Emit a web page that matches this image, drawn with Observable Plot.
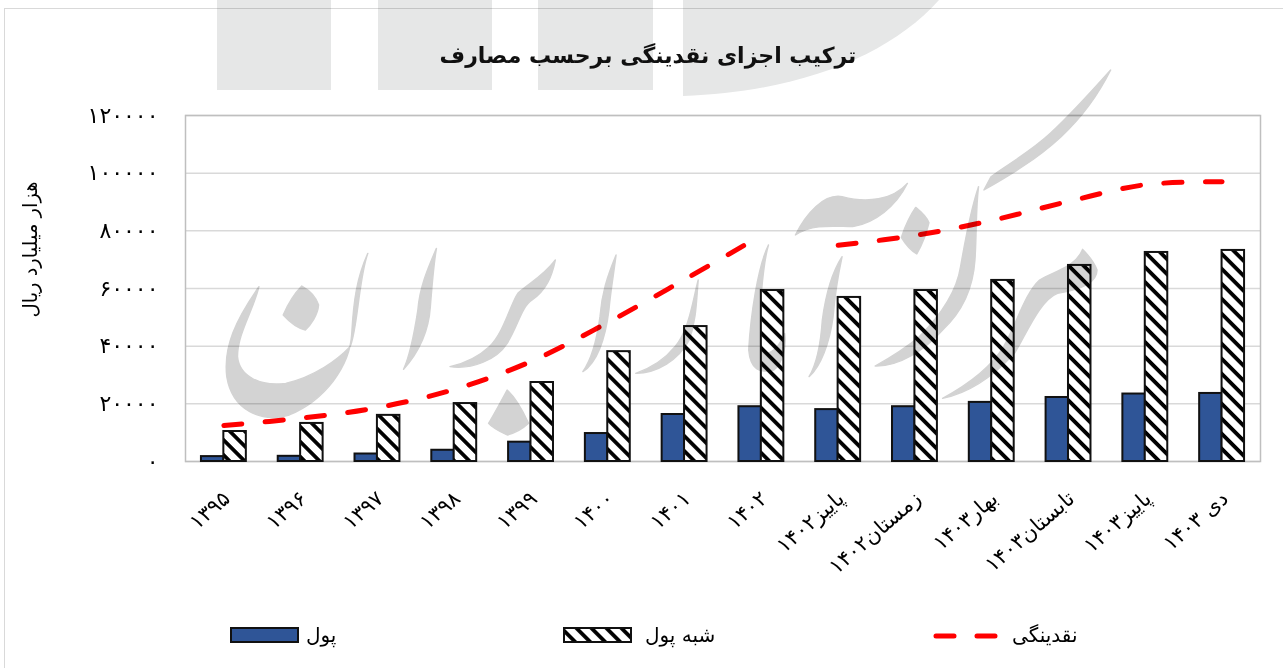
<!DOCTYPE html>
<html lang="fa">
<head>
<meta charset="utf-8">
<script src="https://cdn.jsdelivr.net/npm/d3@7"></script>
<script src="https://cdn.jsdelivr.net/npm/@observablehq/plot@0.6"></script>
<style>
  html, body { margin: 0; padding: 0; background: #fff; width: 1283px; height: 668px; overflow: hidden; }
  body { position: relative; font-family: "DejaVu Sans", sans-serif; color: #000; }
  #frame { position: absolute; left: 4px; top: 8px; right: 0; bottom: 0; border-left: 1.5px solid #d9d9d9; border-top: 1.5px solid #d9d9d9; }
  #title { height: 90px; box-sizing: border-box; padding-top: 41px; text-align: center; font-weight: bold; font-size: 22px; line-height: 30px; padding-left: 13px; color: #111; }
  #chart { position: relative; display: block; height: 530px; }
  #legend { position: relative; height: 48px; font-size: 20px; }
  #legend span.t { position: absolute; top: 3px; white-space: nowrap; direction: rtl; }
  #legend svg { position: absolute; top: 7px; overflow: visible; }
  #wm { position: absolute; left: 0; top: 0; mix-blend-mode: multiply; pointer-events: none; }
</style>
</head>
<body>
<div id="frame"></div>
<div id="title" dir="rtl">ترکیب اجزای نقدینگی برحسب مصارف</div>
<div id="chart"></div>
<div id="legend">
  <svg style="left:230px" width="69" height="16"><rect x="1" y="1" width="67" height="14" fill="#2f5597" stroke="#111" stroke-width="2"/></svg>
  <span class="t" style="left:306px">پول</span>
  <svg style="left:563px" width="69" height="16"><rect x="1" y="1" width="67" height="14" fill="url(#hatch)" stroke="#111" stroke-width="2"/></svg>
  <span class="t" style="left:645px">شبه پول</span>
  <svg style="left:932px;top:8px" width="72" height="16"><line x1="4" x2="70" y1="8" y2="8" stroke="#ff0000" stroke-width="5" stroke-linecap="round" stroke-dasharray="18,23"/></svg>
  <span class="t" style="left:1012px">نقدینگی</span>
</div>
<svg id="wm" width="1283" height="668" viewBox="0 0 1283 668">
  <g fill="#e6e7e7">
    <rect x="217" y="0" width="114" height="90"/>
    <rect x="378" y="0" width="114" height="90"/>
    <rect x="538" y="0" width="115" height="90"/>
    <path d="M683,0 L939,0 C890,55 800,92 683,96 Z"/>
  </g>
  <g fill="#d3d3d3" stroke="#d3d3d3" stroke-width="4" stroke-linejoin="round" transform="translate(200,0) scale(0.35714,0.33333)">
    <path d="M470,760 C440,830 430,900 425,1000 C420,1100 350,1200 250,1245 C170,1270 90,1230 75,1130 C65,1040 100,960 165,860 C150,930 105,1000 105,1070 C110,1130 170,1160 240,1150 C320,1130 385,1080 420,1040 C440,1000 445,830 470,760 Z"/>
    <path d="M285,858 C305,870 325,890 332,915 C330,945 310,975 295,990 C275,985 250,965 233,945 C245,915 265,880 285,858 Z"/>
    <path d="M662,745 C640,800 615,860 610,930 C600,1000 590,1060 570,1108 C610,1060 640,1000 645,920 C650,850 655,790 662,745 Z"/>
    <path d="M995,780 C960,830 920,850 890,880 C870,910 850,1000 810,1040 C780,1070 740,1090 700,1100 C760,1110 830,1080 860,1030 C890,980 900,920 930,900 C970,870 985,830 995,780 Z"/>
    <path d="M1165,765 C1140,830 1125,880 1120,950 C1110,1030 1095,1080 1072,1115 C1110,1090 1135,1020 1145,930 C1150,870 1160,810 1165,765 Z"/>
    <path d="M860,1170 C885,1195 905,1235 920,1270 C905,1285 880,1300 860,1305 C840,1295 820,1285 808,1270 C825,1240 845,1200 860,1170 Z"/>
    <path d="M1395,840 C1380,900 1370,990 1330,1040 C1300,1080 1260,1105 1220,1120 C1280,1120 1340,1080 1370,1020 C1390,960 1390,900 1395,840 Z"/>
  </g>
  <g fill="#d3d3d3" stroke="#d3d3d3" stroke-width="4" stroke-linejoin="round" transform="translate(720,0) scale(0.35907,0.33333)">
    <path d="M135,735 C105,800 85,950 80,1050 C85,1110 110,1120 150,1110 C175,1090 185,1040 180,1000 C170,1030 150,1060 125,1060 C105,1040 110,950 115,880 C120,820 125,770 135,735 Z"/>
    <path d="M340,770 C310,820 295,880 285,960 C280,1040 265,1100 248,1130 C280,1100 305,1030 315,950 C320,880 330,820 340,770 Z"/>
    <path d="M522,550 C480,600 410,610 340,590 C290,580 240,640 210,705 C260,670 320,680 370,680 C430,670 490,620 522,550 Z"/>
    <path d="M545,622 C560,635 575,650 582,668 C575,700 560,740 548,762 C530,750 515,730 505,712 C515,680 530,645 545,622 Z"/>
    <path d="M720,560 C695,640 680,740 670,800 C660,870 620,940 555,1010 C510,1050 470,1075 432,1098 C500,1100 570,1050 620,990 C680,930 705,860 710,780 C715,700 712,630 720,560 Z"/>
    <path d="M1088,210 C1030,280 980,340 920,400 C860,460 790,500 755,530 L735,570 C800,530 880,480 950,410 C1020,340 1060,270 1088,210 Z"/>
    <path d="M1010,748 C990,800 940,810 890,840 C850,880 830,960 790,1040 C750,1110 680,1160 620,1195 C690,1180 760,1130 820,1060 C850,1010 890,900 940,880 C1000,870 1050,850 1050,810 C1040,780 1020,760 1010,748 Z"/>
  </g>
</svg>
<script>
const categories = ["۱۳۹۵","۱۳۹۶","۱۳۹۷","۱۳۹۸","۱۳۹۹","۱۴۰۰","۱۴۰۱","۱۴۰۲","پاییز۱۴۰۲","زمستان۱۴۰۲","بهار۱۴۰۳","تابستان۱۴۰۳","پاییز۱۴۰۳","دی ۱۴۰۳"];
const money = [1700,1800,2600,3900,6700,9700,16300,19000,18000,19000,20500,22200,23400,23600];
const quasiMoney = [10400,13200,16000,20100,27400,38100,46800,59300,56900,59300,62800,68000,72500,73200];
const liquidity = [12500,15000,18700,25000,34700,48200,63100,78400,75000,78400,83600,90200,96000,97000];
const lineSegment = [0,0,0,0,0,0,0,0,1,1,1,1,1,1];
const yTicks = [0,20000,40000,60000,80000,100000,120000];
const persianDigits = "۰۱۲۳۴۵۶۷۸۹";
const toPersian = d => String(d).replace(/\d/g, c => persianDigits[c]);
const rows = categories.map((c, i) => ({c, money: money[i], quasi: quasiMoney[i], liquidity: liquidity[i], seg: lineSegment[i]}));

const hatchDefs = () => d3.create("svg:defs").html(
  `<pattern id="hatch" patternUnits="userSpaceOnUse" width="10.6" height="10.6" patternTransform="rotate(45)">
     <rect width="10.6" height="10.6" fill="#fff"/><rect width="10.6" height="3.8" fill="#000"/>
   </pattern>`).node();

const plot = Plot.plot({
  width: 1283,
  height: 530,
  marginTop: 25,
  marginBottom: 159,
  marginLeft: 185,
  marginRight: 23,
  style: {fontFamily: "'DejaVu Sans', sans-serif", background: "transparent", overflow: "visible"},
  x: {type: "band", domain: categories, paddingInner: 0.707, paddingOuter: 0.3535, round: false, label: null},
  y: {domain: [0, 120000], label: null},
  marks: [
    hatchDefs,
    Plot.gridY(yTicks, {stroke: "#d9d9d9", strokeOpacity: 1, strokeWidth: 1.5}),
    Plot.frame({stroke: "#bfbfbf", strokeWidth: 1.5}),
    Plot.axisY({ticks: yTicks, tickFormat: toPersian, tickSize: 0, tickPadding: 27, fontSize: 22, label: null, fill: "#000"}),
    Plot.axisX({tickSize: 0, tickPadding: 34, tickRotate: -41, textAnchor: "end", fontSize: 21, label: null, lineAnchor: "middle", fill: "#000", dx: 3}),
    Plot.text(["هزار میلیارد ریال"], {frameAnchor: "left", textAnchor: "middle", rotate: -90, dx: -155, dy: -39, fontSize: 19.5, fill: "#000"}),
    Plot.barY(rows, {x: "c", y: "money", fill: "#2f5597", stroke: "#111", strokeWidth: 2, dx: -11.2}),
    Plot.barY(rows, {x: "c", y: "quasi", fill: "url(#hatch)", stroke: "#111", strokeWidth: 2, dx: 11.2}),
    Plot.line(rows, {x: "c", y: "liquidity", z: "seg", stroke: "#ff0000", strokeWidth: 5, strokeLinecap: "round", strokeDasharray: "18,23.5", curve: "catmull-rom"})
  ]
});
document.getElementById("chart").append(plot);
</script>
</body>
</html>
